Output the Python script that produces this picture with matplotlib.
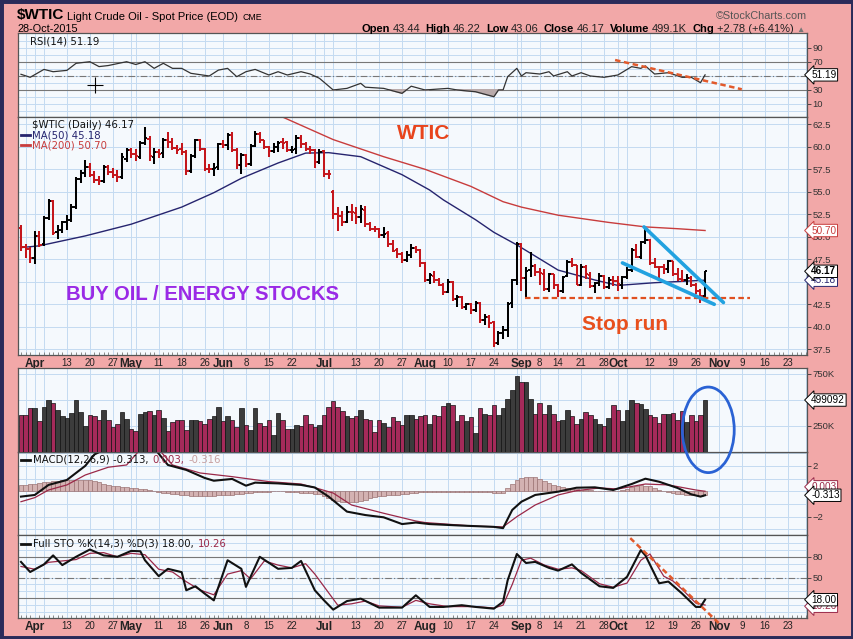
import numpy as np
import pandas as pd
import matplotlib
matplotlib.use("Agg")
import matplotlib.pyplot as plt
from matplotlib.patches import Ellipse, Rectangle
from matplotlib.lines import Line2D

# ---------------- data ----------------
holidays = ["2015-04-03", "2015-05-25", "2015-07-03", "2015-09-07", "2015-11-26"]

opens = [51.0, 48.9, 48.6, 47.7, 50.1, 49.2, 52.1, 54.0, 50.5, 50.8,
         51.7, 51.9, 53.3, 56.4, 57.1, 57.7, 56.9, 56.3, 56.2, 57.7,
         57.2, 56.9, 56.6, 58.6, 59.6, 59.2, 58.9, 60.4, 60.9, 58.9,
         59.4, 59.3, 60.8, 60.5, 59.9, 59.7, 59.4, 57.3, 59.0, 60.7,
         59.7, 57.5, 57.5, 57.7, 60.3, 60.2, 61.3, 59.6, 58.0, 59.1,
         58.1, 60.1, 61.4, 60.8, 60.0, 59.5, 60.0, 60.5, 60.5, 59.6,
         59.7, 61.0, 60.3, 59.7, 59.6, 58.3, 59.5, 57.0, 55.0, 52.5,
         52.3, 51.7, 52.8, 52.7, 52.2, 53.0, 51.4, 50.9, 50.9, 50.2,
         50.4, 49.2, 48.5, 48.1, 47.4, 48.0, 48.8, 48.5, 47.1, 45.2,
         45.7, 45.2, 44.7, 43.9, 45.0, 43.1, 43.3, 42.2, 42.5, 41.9,
         42.6, 40.8, 41.1, 40.5, 38.2, 39.3, 39.6, 42.6, 45.2, 49.2,
         45.4, 46.3, 46.8, 46.1, 45.9, 44.2, 45.9, 44.6, 44.0, 45.6,
         47.2, 46.9, 44.7, 46.7, 45.8, 44.5, 44.9, 45.7, 44.4, 45.2,
         45.1, 44.7, 45.5, 46.3, 48.5, 47.8, 49.4, 49.6, 47.1, 46.7,
         46.6, 46.4, 47.3, 45.9, 45.3, 45.2, 45.4, 44.6, 44.0, 43.44]
highs = [51.3, 49.2, 48.9, 50.6, 50.6, 52.3, 54.2, 54.1, 51.3, 51.8,
         52.4, 53.6, 56.6, 57.4, 58.5, 58.2, 57.3, 56.7, 58.0, 58.0,
         57.6, 57.4, 59.3, 59.9, 59.9, 59.7, 60.6, 62.2, 61.2, 59.9,
         59.7, 61.0, 61.6, 61.0, 60.2, 60.4, 59.6, 59.2, 60.9, 60.9,
         59.9, 58.1, 58.2, 60.4, 60.8, 61.5, 61.6, 59.9, 59.3, 59.2,
         60.3, 61.7, 61.6, 60.8, 60.1, 60.4, 60.6, 61.0, 60.6, 60.1,
         61.3, 61.3, 60.5, 60.1, 59.7, 59.7, 59.6, 57.4, 55.2, 53.3,
         52.9, 53.4, 53.6, 53.3, 53.5, 53.4, 51.6, 51.2, 51.0, 51.1,
         50.6, 49.6, 48.8, 48.3, 48.4, 49.2, 49.0, 48.7, 47.2, 46.0,
         46.2, 45.4, 44.9, 45.3, 45.1, 43.5, 43.4, 42.6, 42.6, 42.9,
         42.8, 41.4, 41.3, 40.6, 39.5, 40.1, 42.8, 45.3, 49.4, 49.3,
         46.6, 48.3, 47.0, 46.5, 46.4, 46.0, 45.9, 44.8, 45.7, 47.4,
         47.7, 46.9, 47.0, 46.9, 46.1, 45.0, 46.0, 45.8, 45.5, 45.6,
         45.6, 45.6, 46.6, 48.8, 49.2, 49.5, 50.9, 49.8, 47.6, 46.8,
         47.0, 47.4, 47.3, 46.5, 46.3, 45.9, 45.7, 44.9, 44.2, 46.22]
lows = [48.4, 47.6, 47.1, 47.0, 48.9, 49.0, 51.9, 50.2, 49.8, 50.4,
        50.8, 51.6, 53.1, 56.0, 56.6, 56.6, 56.0, 55.8, 56.0, 56.9,
        56.5, 56.1, 56.4, 58.3, 58.7, 58.4, 58.6, 60.2, 58.4, 58.1,
        58.8, 58.7, 59.9, 59.6, 59.2, 59.1, 56.9, 57.1, 58.7, 59.5,
        57.3, 57.1, 56.7, 57.4, 59.9, 59.6, 59.4, 57.5, 57.0, 57.8,
        57.9, 60.0, 60.4, 59.7, 58.9, 59.3, 59.4, 59.7, 59.4, 59.3,
        59.2, 59.9, 59.5, 59.2, 57.6, 58.1, 56.6, 56.4, 52.0, 50.6,
        51.2, 51.5, 51.8, 51.4, 51.5, 51.1, 50.6, 50.5, 49.9, 49.9,
        48.9, 48.3, 47.7, 47.1, 47.2, 47.6, 48.2, 46.7, 45.0, 44.8,
        44.9, 44.5, 43.5, 43.8, 42.9, 42.2, 42.0, 41.9, 41.4, 41.6,
        40.4, 40.2, 39.9, 37.8, 38.0, 38.7, 38.9, 42.1, 44.6, 44.0,
        43.2, 45.5, 45.6, 44.7, 44.0, 43.9, 44.2, 43.3, 43.8, 45.5,
        46.6, 44.6, 44.5, 45.3, 44.3, 43.8, 44.5, 44.2, 44.2, 44.5,
        44.0, 44.2, 45.3, 46.1, 47.6, 47.5, 49.2, 46.9, 46.5, 45.2,
        45.9, 46.0, 45.7, 45.1, 45.0, 44.7, 44.4, 43.6, 42.6, 43.06]
closes = [48.87, 48.68, 47.60, 50.09, 49.14, 52.14, 53.98, 50.42, 50.79, 51.64,
          51.91, 53.29, 56.39, 57.10, 57.70, 56.90, 56.30, 56.20, 57.70, 57.20,
          56.90, 56.60, 58.90, 59.63, 59.15, 58.93, 60.40, 60.93, 58.94, 59.39,
          59.25, 60.75, 60.50, 59.88, 59.69, 59.43, 57.26, 58.98, 60.72, 59.72,
          57.51, 57.51, 57.68, 60.30, 60.20, 61.26, 59.64, 58.00, 59.13, 58.14,
          60.14, 61.43, 60.77, 59.96, 59.52, 59.97, 60.45, 60.45, 59.61, 59.68,
          61.01, 60.27, 59.70, 59.63, 58.33, 59.47, 56.96, 56.93, 52.53, 52.33,
          51.65, 52.78, 52.74, 52.20, 53.04, 51.41, 50.91, 50.89, 50.15, 50.36,
          49.19, 48.45, 48.14, 47.39, 47.98, 48.79, 48.52, 47.12, 45.17, 45.74,
          45.15, 44.66, 43.87, 44.96, 43.08, 43.30, 42.23, 42.50, 41.87, 42.62,
          40.80, 41.14, 40.45, 38.24, 39.31, 39.60, 42.56, 45.22, 49.20, 45.41,
          46.25, 46.75, 46.05, 45.94, 44.15, 45.92, 44.63, 44.00, 45.59, 47.15,
          46.90, 44.68, 46.68, 45.83, 44.48, 44.91, 45.70, 44.43, 45.23, 45.09,
          44.74, 45.54, 46.26, 48.53, 47.81, 49.43, 49.63, 47.10, 46.66, 46.64,
          46.38, 47.26, 45.89, 45.29, 45.20, 45.38, 44.60, 43.98, 43.39, 46.17]
volume_k = [352, 352, 427, 427, 295, 430, 498, 475, 401, 343,
            330, 378, 498, 385, 246, 352, 343, 311, 401, 311,
            240, 272, 385, 321, 224, 202, 362, 385, 391, 359,
            401, 327, 198, 288, 311, 311, 208, 311, 311, 300,
            266, 321, 349, 430, 295, 343, 311, 240, 420, 262,
            214, 420, 282, 246, 311, 166, 375, 305, 218, 224,
            262, 253, 352, 272, 240, 262, 352, 430, 488, 430,
            391, 343, 327, 343, 401, 321, 311, 192, 305, 279,
            243, 333, 298, 256, 352, 360, 321, 349, 352, 272,
            352, 343, 440, 466, 450, 300, 352, 295, 340, 182,
            424, 369, 359, 450, 352, 420, 513, 600, 730, 670,
            670, 513, 369, 466, 369, 450, 369, 295, 311, 401,
            346, 266, 321, 385, 352, 321, 266, 246, 330, 456,
            401, 298, 401, 495, 466, 459, 417, 352, 336, 279,
            369, 369, 375, 305, 391, 288, 352, 300, 352, 499.092]

ma50_day = [0, 4, 14, 24, 35, 42, 48, 56, 62, 67, 74, 83, 89, 92, 99, 103, 108, 117, 125, 130, 138, 149]
ma50_val = [48.8, 49.0, 50.1, 51.4, 53.3, 54.9, 56.5, 58.2, 59.3, 59.35, 58.9, 56.9, 55.2, 54.1,
            51.9, 50.5, 49.1, 46.3, 45.2, 44.6, 44.9, 45.18]
ma200_day = [55, 57, 68, 79, 88, 98, 105, 109, 117, 128, 136, 143, 149]
ma200_val = [63.6, 63.3, 60.8, 58.9, 57.5, 55.6, 53.9, 53.3, 52.4, 51.6, 51.1, 50.9, 50.70]

rsi_day = [0, 2, 5, 7, 10, 12, 15, 17, 19, 23, 25, 27, 29, 31, 33, 35, 37, 41, 43, 45,
           47, 49, 51, 54, 56, 58, 61, 63, 65, 68, 71, 74, 75, 79, 83, 85, 88, 93, 95, 99,
           103, 104, 105, 106, 108, 109, 110, 113, 115, 116, 119, 120, 122, 124, 127, 130,
           133, 135, 136, 138, 141, 144, 146, 148, 149]
rsi_val = [52, 47.7, 59, 55.7, 57.6, 67.7, 70, 63, 64.5, 70, 66, 70, 60.5, 67.7, 60.5, 60.5,
           53.4, 49.6, 58, 60.5, 48.6, 55.7, 59, 51, 55.7, 51, 55.7, 52.4, 46.3, 29.6, 31.9,
           39.1, 33.6, 31.9, 24.8, 35, 29.6, 31.9, 29.6, 27.1, 20, 29.6, 29.6, 48.6, 60.5,
           49.6, 54.3, 52.4, 55.7, 49.6, 55.7, 49.6, 54.3, 49.6, 47.7, 51, 62.9, 60.5, 64,
           52.4, 54.3, 47.7, 47.7, 40, 51.19]

macd_day = [0, 3, 6, 10, 14, 16, 20, 25, 29, 32, 36, 40, 42, 46, 49, 51, 56, 61, 64, 67, 71,
            75, 79, 83, 86, 89, 96, 103, 105, 107, 109, 112, 117, 121, 125, 129, 133, 136,
            139, 143, 146, 148, 149]
macd_val = [-0.42, -0.29, 0.5, 0.89, 2.0, 2.9, 3.6, 3.8, 3.4, 2.07, 1.68, 1.05, 0.83, 0.97,
            0.44, 0.68, 0.62, 0.5, 0.3, -0.42, -1.6, -1.87, -2.05, -2.58, -2.46, -2.58, -2.7,
            -2.8, -2.9, -1.47, -0.82, -0.29, -0.03, 0.28, 0.31, 0.1, 0.57, 0.99, 0.75, 0.26,
            -0.24, -0.42, -0.313]
signal_day = [0, 3, 6, 10, 14, 19, 23, 26, 30, 33, 39, 46, 54, 61, 65, 68, 72, 79, 86, 88, 99,
              105, 108, 112, 117, 121, 126, 130, 136, 141, 147, 149]
signal_val = [-0.82, -0.5, 0.1, 0.5, 1.28, 1.89, 2.07, 3.3, 3.3, 2.07, 1.44, 1.15, 0.76, 0.57,
              0.18, -0.14, -1.08, -1.73, -2.34, -2.46, -2.75, -2.8, -2.0, -1.08, -0.29, 0.05,
              0.26, 0.18, 0.57, 0.5, 0.1, 0.003]
hist = [0.5, 0.52, 0.55, 0.6, 0.65, 0.7, 0.75, 0.8, 0.83, 0.86,
        0.88, 0.9, 0.9, 0.9, 0.88, 0.85, 0.78, 0.7, 0.6, 0.5,
        0.45, 0.4, 0.35, 0.3, 0.27, 0.25, 0.2, 0.15, 0.08, 0.0,
        -0.05, -0.1, -0.15, -0.2, -0.24, -0.27, -0.3, -0.34, -0.37, -0.4,
        -0.4, -0.38, -0.35, -0.32, -0.3, -0.27, -0.26, -0.22, -0.18, -0.14,
        -0.1, -0.08, -0.06, -0.04, -0.02, 0.0, 0.0, 0.0, -0.03, -0.06,
        -0.09, -0.12, -0.14, -0.16, -0.2, -0.25, -0.35, -0.5, -0.65, -0.75,
        -0.82, -0.86, -0.87, -0.83, -0.75, -0.65, -0.55, -0.47, -0.4, -0.35,
        -0.32, -0.3, -0.27, -0.25, -0.2, -0.15, -0.1, -0.07, -0.04, -0.02,
        -0.03, -0.05, -0.06, -0.05, -0.04, -0.05, -0.06, -0.05, -0.03, -0.02,
        -0.03, -0.05, -0.07, -0.1, -0.1, -0.1, 0.25, 0.6, 0.9, 1.05,
        1.12, 1.15, 1.1, 0.95, 0.8, 0.65, 0.5, 0.4, 0.3, 0.25,
        0.2, 0.15, 0.13, 0.1, 0.07, 0.05, 0.03, 0.02, 0.0, 0.0,
        0.05, 0.12, 0.2, 0.3, 0.42, 0.5, 0.45, 0.38, 0.25, 0.1,
        0.0, -0.08, -0.14, -0.18, -0.22, -0.26, -0.3, -0.33, -0.36, -0.316]

stok_day = [0, 2, 5, 7, 9, 12, 15, 18, 21, 24, 26, 27, 30, 32, 35, 36, 38, 40, 42, 45, 48, 49,
            52, 56, 59, 61, 64, 66, 68, 71, 74, 78, 83, 86, 89, 92, 96, 99, 103, 105, 106, 108,
            110, 112, 115, 117, 120, 122, 126, 129, 132, 135, 136, 139, 141, 144, 147, 148, 149]
stok_val = [72.6, 58, 69, 82, 68, 80, 90.5, 82, 80, 88.5, 88, 75, 52, 62.6, 57.8, 31.6, 37.4,
            26.8, 17, 75, 62.6, 36.5, 80, 62.6, 64, 74, 31.6, 17, 3.6, 16, 19.5, 6.5, 6.5, 24.3,
            7.5, 7.5, 10, 7.5, 5, 15, 46, 84, 71, 72.6, 64, 60, 69, 56.7, 37.4, 35, 51, 89.6,
            82, 41.7, 44.2, 26.8, 7.5, 7.5, 18.0]
stod_day = [0, 3, 6, 9, 12, 15, 18, 21, 24, 27, 30, 33, 36, 39, 42, 45, 48, 50, 53, 56, 59, 62,
            64, 67, 69, 72, 75, 78, 83, 86, 89, 93, 99, 103, 105, 107, 109, 111, 114, 117, 120,
            122, 126, 129, 132, 135, 137, 140, 142, 144, 147, 149]
stod_val = [66, 62, 72, 74, 76, 85, 86, 80, 85, 83, 62, 58, 44, 32, 25, 55, 60, 48, 74, 68, 64,
            70, 55, 28, 10, 12, 16, 9, 7, 17, 12, 8, 8, 6, 10, 40, 75, 78, 68, 62, 64, 60, 41,
            36, 42, 75, 84, 52, 45, 33, 13, 10.26]

tick_dates = ["2015-04-01", "2015-04-13", "2015-04-20", "2015-04-27", "2015-05-01",
              "2015-05-11", "2015-05-18", "2015-05-26", "2015-06-01", "2015-06-08",
              "2015-06-15", "2015-06-22", "2015-07-01", "2015-07-13", "2015-07-20",
              "2015-07-27", "2015-08-03", "2015-08-10", "2015-08-17", "2015-08-24",
              "2015-09-01", "2015-09-08", "2015-09-14", "2015-09-21", "2015-09-28",
              "2015-10-01", "2015-10-12", "2015-10-19", "2015-10-26", "2015-11-02",
              "2015-11-09", "2015-11-16", "2015-11-23"]
tick_labels = ["Apr", "13", "20", "27", "May", "11", "18", "26", "Jun", "8", "15", "22",
               "Jul", "13", "20", "27", "Aug", "10", "17", "24", "Sep", "8", "14", "21",
               "28", "Oct", "12", "19", "26", "Nov", "9", "16", "23"]

# ---------------- calendar ----------------
cal = pd.bdate_range("2015-03-27", "2015-11-30")
cal = cal[~cal.isin(pd.to_datetime(holidays))]
daynum = {d: i for i, d in enumerate(cal)}
tick_pos = [daynum[pd.Timestamp(d)] for d in tick_dates]
weeks = [i for i in range(1, len(cal))
         if cal[i].isocalendar()[1] != cal[i - 1].isocalendar()[1] or cal[i].month != cal[i - 1].month]

n = len(closes)
idx = np.arange(n)
c = np.array(closes)
prev = np.r_[opens[0], c[:-1]]
up = c > prev

# ---------------- styling ----------------
PINK = "#f2a8a8"
PANEL = "#f5f9fd"
GRID = "#c4dbf1"
W, H = 854, 639
XL = (-0.65, 171.2)
HDR = "Liberation Sans"
LEG = "DejaVu Sans"

fig = plt.figure(figsize=(8.54, 6.39), dpi=100, facecolor=PINK)


def panel(top, bottom, hgrid):
    ax = fig.add_axes([18 / W, 1 - bottom / H, (807 - 18) / W, (bottom - top) / H])
    ax.set_facecolor(PANEL)
    ax.set_xlim(*XL)
    for sp in ax.spines.values():
        sp.set_color("#555555")
        sp.set_linewidth(0.9)
    ax.yaxis.tick_right()
    ax.tick_params(axis="y", labelsize=6.8, length=3, width=0.6, colors="#333333", pad=1)
    ax.tick_params(axis="x", length=0, labelbottom=False)
    for g in weeks:
        ax.axvline(g, color=GRID, lw=0.7, zorder=0)
    for g in hgrid:
        ax.axhline(g, color=GRID, lw=0.7, zorder=0)
    return ax


def vbox(ax, y, s, color="black", weight="normal"):
    ax.annotate(s, xy=(1, y), xycoords=("axes fraction", "data"), xytext=(3, 0),
                textcoords="offset points", ha="left", va="center", fontsize=7.2,
                color=color, weight=weight, family=HDR, annotation_clip=False, zorder=20,
                bbox=dict(boxstyle="larrow,pad=0.12", fc="white", ec=color, lw=0.7))


def put_seq(x, y, pieces, align="left"):
    r = fig.canvas.get_renderer()
    txts = []
    for s, kw, gap in pieces:
        t = fig.text(0, 1 - y / H, s, va="baseline", ha="left", **kw)
        txts.append((t, t.get_window_extent(r).width, gap))
    total = sum(w + g for _, w, g in txts)
    cx = x - total if align == "right" else x
    for t, w, g in txts:
        t.set_x(cx / W)
        cx += w + g


# ---------------- RSI ----------------
ax_rsi = panel(33, 117, range(0, 101, 10))
ax_rsi.set_ylim(-9, 111)
ax_rsi.set_yticks([10, 30, 70, 90])
ax_rsi.axhline(70, color="#777777", lw=0.8)
ax_rsi.axhline(30, color="#777777", lw=0.8)
ax_rsi.axhline(50, color="#777777", lw=0.8, ls=(0, (6, 2, 1, 2)))
rv = np.array(rsi_val)
ax_rsi.fill_between(rsi_day, rv, 30, where=rv < 30, interpolate=True, color="#b9aaaa", zorder=2)
ax_rsi.plot(rsi_day, rsi_val, color="#333333", lw=0.9, zorder=3)
ax_rsi.plot([129.4, 157], [72.4, 30.6], color="#e25a2c", lw=1.8, ls=(0, (2.2, 1.4)), zorder=4)
ax_rsi.plot([16.1], [36.7], marker="+", ms=11, mew=0.8, color="black")
vbox(ax_rsi, 51.19, "51.19")

# ---------------- price ----------------
ax_p = panel(117, 355, np.arange(37.5, 63, 2.5))
ax_p.set_ylim(36.87, 63.31)
ax_p.set_yticks(np.arange(37.5, 63, 2.5))
ax_p.set_yticklabels(["%.1f" % v for v in np.arange(37.5, 63, 2.5)])
cols = np.where(up, "#000000", "#c4161c")
ax_p.vlines(idx, lows, highs, colors=cols, lw=1.45, zorder=3)
ax_p.hlines(opens, idx - 0.5, idx, colors=cols, lw=1.4, zorder=3)
ax_p.hlines(closes, idx, idx + 0.5, colors=cols, lw=1.4, zorder=3)
ax_p.plot(ma50_day, ma50_val, color="#26246e", lw=1.0, zorder=2)
ax_p.plot(ma200_day, ma200_val, color="#c83c3c", lw=1.0, zorder=2)
ax_p.hlines(43.15, 109.8, 158.8, colors="#e05020", lw=1.6, linestyles=(0, (2.5, 1.5)), zorder=4)
ax_p.plot([135.7, 153], [51.1, 42.7], color="#22a2e0", lw=2.6, zorder=5, solid_capstyle="round")
ax_p.plot([131, 151], [47.1, 42.5], color="#22a2e0", lw=2.6, zorder=5, solid_capstyle="round")
ax_p.text(87.6, 61.5, "WTIC", color="#e8441c", fontsize=15, weight="bold", family=HDR,
          ha="center", va="center")
ax_p.text(39.5, 43.6, "BUY OIL / ENERGY STOCKS", color="#9a2ae6", fontsize=14.6, weight="bold",
          family=HDR, ha="center", va="center")
ax_p.text(131.5, 40.26, "Stop run", color="#e8501e", fontsize=15, weight="bold", family=HDR,
          ha="center", va="center")
vbox(ax_p, 50.70, "50.70", color="#c83c3c")
vbox(ax_p, 45.18, "45.18", color="#26246e")
vbox(ax_p, 46.17, "46.17", weight="bold")

# ---------------- volume ----------------
ax_v = panel(368, 452, [250, 500, 750])
ax_v.set_zorder(5)
ax_v.set_ylim(0, 807)
ax_v.set_yticks([250, 750])
ax_v.set_yticklabels(["250K", "750K"])
vcols = np.where(up, "#3c3c3c", "#a52a5a")
ax_v.bar(idx, volume_k, width=1.0, color=vcols, edgecolor="#111111", lw=0.5, zorder=3)
vbox(ax_v, 499.092, "499092")
ax_v.add_patch(Ellipse((149.7, 213), 11.3, 822, fill=False, ec="#2a62d4", lw=2.0,
                       clip_on=False, zorder=30))

# ---------------- MACD ----------------
ax_m = panel(452, 535, [-3, -2, -1, 0, 1, 2, 3])
ax_m.set_ylim(-3.44, 3.09)
ax_m.set_yticks([-2, 2])
ax_m.bar(idx, hist, width=1.0, color="#d3b2b2", edgecolor="#9c7474", lw=0.5, zorder=2)
ax_m.plot(signal_day, signal_val, color="#9a2848", lw=0.9, zorder=3)
ax_m.plot(macd_day, macd_val, color="#111111", lw=1.5, zorder=4)
vbox(ax_m, 0.35, "0.003", color="#9a2848")
vbox(ax_m, -0.313, "-0.313")

# ---------------- Full STO ----------------
ax_s = panel(535, 618, range(0, 101, 10))
ax_s.set_ylim(-8.5, 111.5)
ax_s.set_yticks([50, 80])
ax_s.axhline(80, color="#777777", lw=0.8)
ax_s.axhline(20, color="#777777", lw=0.8)
ax_s.axhline(50, color="#777777", lw=0.8, ls=(0, (6, 2, 1, 2)))
ax_s.plot(stod_day, stod_val, color="#9a2848", lw=0.9, zorder=3)
ax_s.plot(stok_day, stok_val, color="#111111", lw=1.5, zorder=4)
ax_s.plot([132.7, 152], [107, -16], color="#e25a2c", lw=1.8, ls=(0, (2.2, 1.4)), zorder=6,
          clip_on=False)
vbox(ax_s, 8.5, "10.26", color="#9a2848")
vbox(ax_s, 18.0, "18.00")

for ax in (ax_rsi, ax_p, ax_v, ax_m, ax_s):
    for t in ax.get_yticklabels():
        t.set_family(HDR)

# ---------------- date labels ----------------
for ax in (ax_p, ax_s):
    ax.set_xticks(tick_pos)
    ax.set_xticklabels(tick_labels)
    ax.set_xticks(np.arange(0, 172), minor=True)
    ax.tick_params(axis="x", which="major", length=0, labelbottom=True, labelsize=7, pad=2,
                   colors="#222222")
    ax.tick_params(axis="x", which="minor", length=2, direction="in", color="#777777")
    for t in ax.get_xticklabels():
        t.set_family(HDR)
        if t.get_text().isalpha():
            t.set_weight("bold")
            t.set_fontsize(8.5)

# ---------------- header and legends ----------------
put_seq(17, 19.5, [("$WTIC", dict(fontsize=11, weight="bold", family=HDR), 3),
                   ("Light Crude Oil - Spot Price (EOD)", dict(fontsize=8, family=HDR), 4),
                   ("CME", dict(fontsize=6.3, family=HDR), 0)])
fig.text(17 / W, 1 - 31.5 / H, "28-Oct-2015", fontsize=7.8, family=HDR, va="baseline")
fig.text(807 / W, 1 - 19 / H, "\u00a9StockCharts.com", fontsize=7.8, family=HDR, color="#555555",
         ha="right", va="baseline")
b = dict(fontsize=8, weight="bold", family=HDR)
nm = dict(fontsize=8, family=HDR, color="#222222")
put_seq(805, 31.5, [("Open", b, 3), ("43.44", nm, 5), ("High", b, 3), ("46.22", nm, 5),
                    ("Low", b, 3), ("43.06", nm, 5), ("Close", b, 3), ("46.17", nm, 5),
                    ("Volume", b, 3), ("499.1K", nm, 5), ("Chg", b, 3),
                    ("+2.78 (+6.41%)", nm, 3),
                    ("\u25b2", dict(fontsize=6, family=[HDR, "DejaVu Sans"], color="#777777"), 0)],
        align="right")

lg = dict(fontsize=7.3, family=LEG, color="#111111")
put_seq(30, 44, [("RSI(14) 51.19", lg, 0)])
put_seq(32, 128, [("$WTIC (Daily) 46.17", lg, 0)])
put_seq(32, 138.5, [("MA(50) 45.18", dict(lg, color="#26246e"), 0)])
put_seq(32, 149, [("MA(200) 50.70", dict(lg, color="#c83c3c"), 0)])
put_seq(32, 380, [("Volume 499,092", lg, 0)])
put_seq(33, 463, [("MACD(12,26,9) -0.313,", lg, 4), ("0.003,", dict(lg, color="#9a2848"), 4),
                  ("-0.316", dict(lg, color="#c8a0a0"), 0)])
put_seq(33, 547, [("Full STO %K(14,3) %D(3) 18.00,", lg, 4), ("10.26", dict(lg, color="#9a2848"), 0)])
for yy, colr in [(134.5, "#26246e"), (145, "#c83c3c"), (459.5, "#111111"), (543.5, "#111111")]:
    fig.add_artist(Line2D([21 / W, 30 / W], [1 - yy / H] * 2, color=colr, lw=2))

fig.add_artist(Rectangle((0, 0), 1, 1, transform=fig.transFigure, fill=False, ec="#2b2b5a", lw=5))

fig.savefig("out.png", dpi=100, facecolor=PINK)
